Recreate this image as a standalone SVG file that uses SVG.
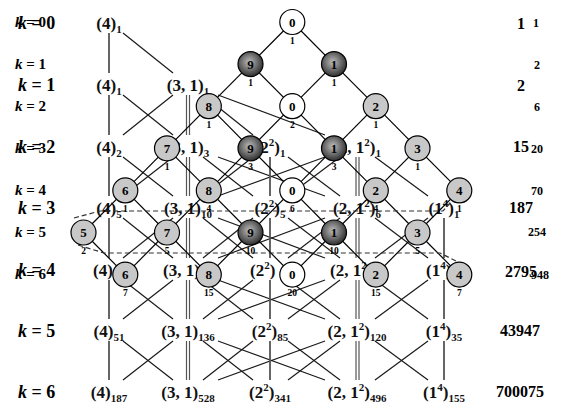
<svg xmlns="http://www.w3.org/2000/svg" width="561" height="415" viewBox="0 0 561 415">
<style>
.ae{stroke:#1a1a1a;stroke-width:1.2;fill:none}
.av{stroke:#555;stroke-width:1.8}
.ad{stroke:#555;stroke-width:1.2}
.be{stroke:#000;stroke-width:1.2}
.dash{stroke:#333;stroke-width:1.2;stroke-dasharray:5 3;fill:none}
.nd{stroke:#000;stroke-width:1.2}
.lt{fill:#c8c8c8}.wt{fill:#fff}.dk{fill:url(#dkg)}
.nt{font-family:"Liberation Serif",serif;font-weight:bold;font-size:13px;text-anchor:middle;fill:#000}
.ns{font-family:"Liberation Serif",serif;font-weight:bold;font-size:9.5px;text-anchor:middle;fill:#000}
.al{font-family:"Liberation Serif",serif;font-weight:bold;font-size:17px;text-anchor:middle;fill:#111}
.als{font-family:"Liberation Serif",serif;font-weight:bold;font-size:17px;fill:#111}
.sb{font-size:11px}
.kA{font-family:"Liberation Serif",serif;font-weight:bold;font-size:18px;fill:#000}
.kB{font-family:"Liberation Serif",serif;font-weight:bold;font-size:15px;fill:#000}
.it{font-style:italic}
.nA{font-family:"Liberation Serif",serif;font-weight:bold;font-size:16px;text-anchor:middle;fill:#000}
.nB{font-family:"Liberation Serif",serif;font-weight:bold;font-size:12px;text-anchor:middle;fill:#000}
</style>
<defs>
<radialGradient id="dkg" cx="0.45" cy="0.42" r="0.6">
<stop offset="0" stop-color="#bcbcbc"/>
<stop offset="1" stop-color="#2a2a2a"/>
</radialGradient>
</defs>
<rect width="561" height="415" fill="#fff"/>

<g id="lattice-edges">
<!-- k0 -> k1 -->
<line class="av" x1="109" y1="33" x2="109" y2="73"/>
<line class="ae" x1="123" y1="33" x2="173" y2="73"/>
<!-- k1 -> k2 -->
<line class="av" x1="109" y1="95" x2="109" y2="135"/>
<line class="ae" x1="123" y1="95" x2="173" y2="135"/>
<line class="ae" x1="173" y1="95" x2="123" y2="135"/>
<line class="ad" x1="186.5" y1="95" x2="186.5" y2="135"/>
<line class="ad" x1="189.5" y1="95" x2="189.5" y2="135"/>
<line class="ae" x1="203" y1="95" x2="253" y2="135"/>
<line class="ae" x1="218" y1="95" x2="325" y2="135"/>
<!-- k2 -> k3 -->
<line class="av" x1="109" y1="157" x2="109" y2="196"/>
<line class="ae" x1="123" y1="157" x2="173" y2="196"/>
<line class="ae" x1="173" y1="157" x2="123" y2="196"/>
<line class="ad" x1="186.5" y1="157" x2="186.5" y2="196"/>
<line class="ad" x1="189.5" y1="157" x2="189.5" y2="196"/>
<line class="ae" x1="203" y1="157" x2="253" y2="196"/>
<line class="ae" x1="253" y1="157" x2="203" y2="196"/>
<line class="ae" x1="218" y1="157" x2="325" y2="196"/>
<line class="ae" x1="325" y1="157" x2="218" y2="196"/>
<line class="av" x1="270" y1="157" x2="270" y2="196"/>
<line class="ae" x1="288" y1="157" x2="340" y2="196"/>
<line class="ae" x1="340" y1="157" x2="288" y2="196"/>
<line class="ad" x1="356" y1="157" x2="356" y2="196"/>
<line class="ad" x1="359" y1="157" x2="359" y2="196"/>
<line class="ae" x1="375" y1="157" x2="428" y2="196"/>
<!-- k3 -> k4 -->
<line class="av" x1="109" y1="218" x2="109" y2="258"/>
<line class="ae" x1="123" y1="218" x2="173" y2="258"/>
<line class="ae" x1="173" y1="218" x2="123" y2="258"/>
<line class="ad" x1="186.5" y1="218" x2="186.5" y2="258"/>
<line class="ad" x1="189.5" y1="218" x2="189.5" y2="258"/>
<line class="ae" x1="203" y1="218" x2="253" y2="258"/>
<line class="ae" x1="253" y1="218" x2="203" y2="258"/>
<line class="ae" x1="218" y1="218" x2="325" y2="258"/>
<line class="ae" x1="325" y1="218" x2="218" y2="258"/>
<line class="av" x1="270" y1="218" x2="270" y2="258"/>
<line class="ae" x1="288" y1="218" x2="340" y2="258"/>
<line class="ae" x1="340" y1="218" x2="288" y2="258"/>
<line class="ad" x1="356" y1="218" x2="356" y2="258"/>
<line class="ad" x1="359" y1="218" x2="359" y2="258"/>
<line class="ae" x1="375" y1="218" x2="428" y2="258"/>
<line class="ae" x1="428" y1="218" x2="375" y2="258"/>
<line class="av" x1="444" y1="218" x2="444" y2="258"/>
<!-- k4 -> k5 -->
<line class="av" x1="109" y1="280" x2="109" y2="319"/>
<line class="ae" x1="123" y1="280" x2="173" y2="319"/>
<line class="ae" x1="173" y1="280" x2="123" y2="319"/>
<line class="ad" x1="186.5" y1="280" x2="186.5" y2="319"/>
<line class="ad" x1="189.5" y1="280" x2="189.5" y2="319"/>
<line class="ae" x1="203" y1="280" x2="253" y2="319"/>
<line class="ae" x1="253" y1="280" x2="203" y2="319"/>
<line class="ae" x1="218" y1="280" x2="325" y2="319"/>
<line class="ae" x1="325" y1="280" x2="218" y2="319"/>
<line class="av" x1="270" y1="280" x2="270" y2="319"/>
<line class="ae" x1="288" y1="280" x2="340" y2="319"/>
<line class="ae" x1="340" y1="280" x2="288" y2="319"/>
<line class="ad" x1="356" y1="280" x2="356" y2="319"/>
<line class="ad" x1="359" y1="280" x2="359" y2="319"/>
<line class="ae" x1="375" y1="280" x2="428" y2="319"/>
<line class="ae" x1="428" y1="280" x2="375" y2="319"/>
<line class="av" x1="444" y1="280" x2="444" y2="319"/>
<!-- k5 -> k6 -->
<line class="av" x1="109" y1="341" x2="109" y2="380"/>
<line class="ae" x1="123" y1="341" x2="173" y2="380"/>
<line class="ae" x1="173" y1="341" x2="123" y2="380"/>
<line class="ad" x1="186.5" y1="341" x2="186.5" y2="380"/>
<line class="ad" x1="189.5" y1="341" x2="189.5" y2="380"/>
<line class="ae" x1="203" y1="341" x2="253" y2="380"/>
<line class="ae" x1="253" y1="341" x2="203" y2="380"/>
<line class="ae" x1="218" y1="341" x2="325" y2="380"/>
<line class="ae" x1="325" y1="341" x2="218" y2="380"/>
<line class="av" x1="270" y1="341" x2="270" y2="380"/>
<line class="ae" x1="288" y1="341" x2="340" y2="380"/>
<line class="ae" x1="340" y1="341" x2="288" y2="380"/>
<line class="ad" x1="356" y1="341" x2="356" y2="380"/>
<line class="ad" x1="359" y1="341" x2="359" y2="380"/>
<line class="ae" x1="375" y1="341" x2="428" y2="380"/>
<line class="ae" x1="428" y1="341" x2="375" y2="380"/>
<line class="av" x1="444" y1="341" x2="444" y2="380"/>
</g>

<g id="lattice-labels">
<g id="A-k0"><text class="al" x="109" y="29">(4)<tspan class="sb" dy="4">1</tspan></text></g>
<g id="A-k1">
<text class="al" x="109" y="91">(4)<tspan class="sb" dy="4">1</tspan></text>
<text class="al" x="188" y="91">(3, 1)<tspan class="sb" dy="4">1</tspan></text>
</g>
<g id="A-k2">
<text class="al" x="109" y="153">(4)<tspan class="sb" dy="4">2</tspan></text>
<text class="al" x="188" y="153">(3, 1)<tspan class="sb" dy="4">3</tspan></text>
<text class="al" x="270" y="153">(2<tspan class="sb" dy="-7">2</tspan><tspan dy="7">)</tspan><tspan class="sb" dy="4">1</tspan></text>
<text class="al" x="357" y="153">(2, 1<tspan class="sb" dy="-7">2</tspan><tspan dy="7">)</tspan><tspan class="sb" dy="4">1</tspan></text>
</g>
<g id="A-k3">
<text class="al" x="109" y="214">(4)<tspan class="sb" dy="4">5</tspan></text>
<text class="al" x="188" y="214">(3, 1)<tspan class="sb" dy="4">10</tspan></text>
<text class="al" x="270" y="214">(2<tspan class="sb" dy="-7">2</tspan><tspan dy="7">)</tspan><tspan class="sb" dy="4">5</tspan></text>
<text class="al" x="357" y="214">(2, 1<tspan class="sb" dy="-7">2</tspan><tspan dy="7">)</tspan><tspan class="sb" dy="4">6</tspan></text>
<text class="al" x="444" y="214">(1<tspan class="sb" dy="-7">4</tspan><tspan dy="7">)</tspan><tspan class="sb" dy="4">1</tspan></text>
</g>
<g id="A-k4">
<text class="als" x="93" y="276">(4)</text>
<text class="als" x="163" y="276">(3, 1)</text>
<text class="als" x="250" y="276">(2<tspan class="sb" dy="-7">2</tspan><tspan dy="7">)</tspan></text>
<text class="als" x="330" y="276">(2, 1<tspan class="sb" dy="-7">2</tspan><tspan dy="7">)</tspan></text>
<text class="als" x="426" y="276">(1<tspan class="sb" dy="-7">4</tspan><tspan dy="7">)</tspan></text>
</g>
<g id="A-k5">
<text class="al" x="109" y="337">(4)<tspan class="sb" dy="4">51</tspan></text>
<text class="al" x="188" y="337">(3, 1)<tspan class="sb" dy="4">136</tspan></text>
<text class="al" x="270" y="337">(2<tspan class="sb" dy="-7">2</tspan><tspan dy="7">)</tspan><tspan class="sb" dy="4">85</tspan></text>
<text class="al" x="357" y="337">(2, 1<tspan class="sb" dy="-7">2</tspan><tspan dy="7">)</tspan><tspan class="sb" dy="4">120</tspan></text>
<text class="al" x="444" y="337">(1<tspan class="sb" dy="-7">4</tspan><tspan dy="7">)</tspan><tspan class="sb" dy="4">35</tspan></text>
</g>
<g id="A-k6">
<text class="al" x="109" y="398">(4)<tspan class="sb" dy="4">187</tspan></text>
<text class="al" x="188" y="398">(3, 1)<tspan class="sb" dy="4">528</tspan></text>
<text class="al" x="270" y="398">(2<tspan class="sb" dy="-7">2</tspan><tspan dy="7">)</tspan><tspan class="sb" dy="4">341</tspan></text>
<text class="al" x="357" y="398">(2, 1<tspan class="sb" dy="-7">2</tspan><tspan dy="7">)</tspan><tspan class="sb" dy="4">496</tspan></text>
<text class="al" x="444" y="398">(1<tspan class="sb" dy="-7">4</tspan><tspan dy="7">)</tspan><tspan class="sb" dy="4">155</tspan></text>
</g>
</g>

<g id="row-labels-A">
<text class="kA" x="18" y="29"><tspan class="it">k</tspan> = 0</text>
<text class="kA" x="18" y="91"><tspan class="it">k</tspan> = 1</text>
<text class="kA" x="18" y="153"><tspan class="it">k</tspan> = 2</text>
<text class="kA" x="18" y="214"><tspan class="it">k</tspan> = 3</text>
<text class="kA" x="18" y="276"><tspan class="it">k</tspan> = 4</text>
<text class="kA" x="18" y="337"><tspan class="it">k</tspan> = 5</text>
<text class="kA" x="18" y="398"><tspan class="it">k</tspan> = 6</text>
</g>
<g id="row-labels-B">
<text class="kB" x="15" y="27"><tspan class="it">k</tspan> = 0</text>
<text class="kB" x="15" y="69"><tspan class="it">k</tspan> = 1</text>
<text class="kB" x="15" y="111"><tspan class="it">k</tspan> = 2</text>
<text class="kB" x="15" y="153"><tspan class="it">k</tspan> = 3</text>
<text class="kB" x="15" y="195"><tspan class="it">k</tspan> = 4</text>
<text class="kB" x="15" y="237"><tspan class="it">k</tspan> = 5</text>
<text class="kB" x="15" y="279"><tspan class="it">k</tspan> = 6</text>
</g>

<g id="totals-A">
<text class="nA" x="521" y="29">1</text>
<text class="nA" x="521" y="91">2</text>
<text class="nA" x="521" y="152">15</text>
<text class="nA" x="521" y="213">187</text>
<text class="nA" x="521" y="277">2795</text>
<text class="nA" x="520" y="336">43947</text>
<text class="nA" x="520" y="397">700075</text>
</g>
<g id="totals-B">
<text class="nB" x="536" y="27">1</text>
<text class="nB" x="537" y="69">2</text>
<text class="nB" x="537" y="111">6</text>
<text class="nB" x="537" y="153">20</text>
<text class="nB" x="537" y="195">70</text>
<text class="nB" x="537" y="236">254</text>
<text class="nB" x="540" y="279">948</text>
</g>

<g id="wheel-edges">
<line class="be" x1="292.3" y1="22" x2="250.5" y2="64.1"/>
<line class="be" x1="292.3" y1="22" x2="334" y2="64.1"/>
<line class="be" x1="250.5" y1="64.1" x2="208.8" y2="106.2"/>
<line class="be" x1="250.5" y1="64.1" x2="292.3" y2="106.2"/>
<line class="be" x1="334" y1="64.1" x2="292.3" y2="106.2"/>
<line class="be" x1="334" y1="64.1" x2="375.8" y2="106.2"/>
<line class="be" x1="208.8" y1="106.2" x2="167" y2="148.3"/>
<line class="be" x1="208.8" y1="106.2" x2="250.5" y2="148.3"/>
<line class="be" x1="292.3" y1="106.2" x2="250.5" y2="148.3"/>
<line class="be" x1="292.3" y1="106.2" x2="334" y2="148.3"/>
<line class="be" x1="375.8" y1="106.2" x2="334" y2="148.3"/>
<line class="be" x1="375.8" y1="106.2" x2="417.5" y2="148.3"/>
<line class="be" x1="167" y1="148.3" x2="125.3" y2="190.4"/>
<line class="be" x1="167" y1="148.3" x2="208.8" y2="190.4"/>
<line class="be" x1="250.5" y1="148.3" x2="208.8" y2="190.4"/>
<line class="be" x1="250.5" y1="148.3" x2="292.3" y2="190.4"/>
<line class="be" x1="334" y1="148.3" x2="292.3" y2="190.4"/>
<line class="be" x1="334" y1="148.3" x2="375.8" y2="190.4"/>
<line class="be" x1="417.5" y1="148.3" x2="375.8" y2="190.4"/>
<line class="be" x1="417.5" y1="148.3" x2="459.3" y2="190.4"/>
<line class="be" x1="125.3" y1="190.4" x2="83.5" y2="232.5"/>
<line class="be" x1="125.3" y1="190.4" x2="167" y2="232.5"/>
<line class="be" x1="208.8" y1="190.4" x2="167" y2="232.5"/>
<line class="be" x1="208.8" y1="190.4" x2="250.5" y2="232.5"/>
<line class="be" x1="292.3" y1="190.4" x2="250.5" y2="232.5"/>
<line class="be" x1="292.3" y1="190.4" x2="334" y2="232.5"/>
<line class="be" x1="375.8" y1="190.4" x2="334" y2="232.5"/>
<line class="be" x1="375.8" y1="190.4" x2="417.5" y2="232.5"/>
<line class="be" x1="459.3" y1="190.4" x2="417.5" y2="232.5"/>
<line class="be" x1="83.5" y1="232.5" x2="125.3" y2="274.6"/>
<line class="be" x1="167" y1="232.5" x2="125.3" y2="274.6"/>
<line class="be" x1="167" y1="232.5" x2="208.8" y2="274.6"/>
<line class="be" x1="250.5" y1="232.5" x2="208.8" y2="274.6"/>
<line class="be" x1="250.5" y1="232.5" x2="292.3" y2="274.6"/>
<line class="be" x1="334" y1="232.5" x2="292.3" y2="274.6"/>
<line class="be" x1="334" y1="232.5" x2="375.8" y2="274.6"/>
<line class="be" x1="417.5" y1="232.5" x2="375.8" y2="274.6"/>
<line class="be" x1="417.5" y1="232.5" x2="459.3" y2="274.6"/>
<path class="dash" d="M74 218 L100 211 L443 211 L452 201"/>
<path class="dash" d="M78 245 L104 253 L440 253 L458 262"/>
</g>

<g id="wheel-nodes">
<g id="n0-5"><circle class="nd wt" cx="292.3" cy="22" r="12.5"/><text class="nt" x="292.3" y="26.5">0</text><text class="ns" x="292.3" y="44">1</text></g>
<g id="n1-4"><circle class="nd dk" cx="250.5" cy="64.1" r="12.5"/><text class="nt" x="250.5" y="68.6">9</text><text class="ns" x="250.5" y="86">1</text></g>
<g id="n1-6"><circle class="nd dk" cx="334" cy="64.1" r="12.5"/><text class="nt" x="334" y="68.6">1</text><text class="ns" x="334" y="86">1</text></g>
<g id="n2-3"><circle class="nd lt" cx="208.8" cy="106.2" r="12.5"/><text class="nt" x="208.8" y="110.7">8</text><text class="ns" x="208.8" y="128">1</text></g>
<g id="n2-5"><circle class="nd wt" cx="292.3" cy="106.2" r="12.5"/><text class="nt" x="292.3" y="110.7">0</text><text class="ns" x="292.3" y="128">2</text></g>
<g id="n2-7"><circle class="nd lt" cx="375.8" cy="106.2" r="12.5"/><text class="nt" x="375.8" y="110.7">2</text><text class="ns" x="375.8" y="128">1</text></g>
<g id="n3-2"><circle class="nd lt" cx="167" cy="148.3" r="12.5"/><text class="nt" x="167" y="152.8">7</text><text class="ns" x="167" y="170">1</text></g>
<g id="n3-4"><circle class="nd dk" cx="250.5" cy="148.3" r="12.5"/><text class="nt" x="250.5" y="152.8">9</text><text class="ns" x="250.5" y="170">3</text></g>
<g id="n3-6"><circle class="nd dk" cx="334" cy="148.3" r="12.5"/><text class="nt" x="334" y="152.8">1</text><text class="ns" x="334" y="170">3</text></g>
<g id="n3-8"><circle class="nd lt" cx="417.5" cy="148.3" r="12.5"/><text class="nt" x="417.5" y="152.8">3</text><text class="ns" x="417.5" y="170">1</text></g>
<g id="n4-1"><circle class="nd lt" cx="125.3" cy="190.4" r="12.5"/><text class="nt" x="125.3" y="194.9">6</text><text class="ns" x="125.3" y="212">1</text></g>
<g id="n4-3"><circle class="nd lt" cx="208.8" cy="190.4" r="12.5"/><text class="nt" x="208.8" y="194.9">8</text><text class="ns" x="208.8" y="212">4</text></g>
<g id="n4-5"><circle class="nd wt" cx="292.3" cy="190.4" r="12.5"/><text class="nt" x="292.3" y="194.9">0</text><text class="ns" x="292.3" y="212">6</text></g>
<g id="n4-7"><circle class="nd lt" cx="375.8" cy="190.4" r="12.5"/><text class="nt" x="375.8" y="194.9">2</text><text class="ns" x="375.8" y="212">4</text></g>
<g id="n4-9"><circle class="nd lt" cx="459.3" cy="190.4" r="12.5"/><text class="nt" x="459.3" y="194.9">4</text><text class="ns" x="459.3" y="212">1</text></g>
<g id="n5-0"><circle class="nd lt" cx="83.5" cy="232.5" r="12.5"/><text class="nt" x="83.5" y="237">5</text><text class="ns" x="83.5" y="254">2</text></g>
<g id="n5-2"><circle class="nd lt" cx="167" cy="232.5" r="12.5"/><text class="nt" x="167" y="237">7</text><text class="ns" x="167" y="254">5</text></g>
<g id="n5-4"><circle class="nd dk" cx="250.5" cy="232.5" r="12.5"/><text class="nt" x="250.5" y="237">9</text><text class="ns" x="250.5" y="254">10</text></g>
<g id="n5-6"><circle class="nd dk" cx="334" cy="232.5" r="12.5"/><text class="nt" x="334" y="237">1</text><text class="ns" x="334" y="254">10</text></g>
<g id="n5-8"><circle class="nd lt" cx="417.5" cy="232.5" r="12.5"/><text class="nt" x="417.5" y="237">3</text><text class="ns" x="417.5" y="254">5</text></g>
<g id="n6-1"><circle class="nd lt" cx="125.3" cy="274.6" r="12.5"/><text class="nt" x="125.3" y="279.1">6</text><text class="ns" x="125.3" y="296">7</text></g>
<g id="n6-3"><circle class="nd lt" cx="208.8" cy="274.6" r="12.5"/><text class="nt" x="208.8" y="279.1">8</text><text class="ns" x="208.8" y="296">15</text></g>
<g id="n6-5"><circle class="nd wt" cx="292.3" cy="274.6" r="12.5"/><text class="nt" x="292.3" y="279.1">0</text><text class="ns" x="292.3" y="296">20</text></g>
<g id="n6-7"><circle class="nd lt" cx="375.8" cy="274.6" r="12.5"/><text class="nt" x="375.8" y="279.1">2</text><text class="ns" x="375.8" y="296">15</text></g>
<g id="n6-9"><circle class="nd lt" cx="459.3" cy="274.6" r="12.5"/><text class="nt" x="459.3" y="279.1">4</text><text class="ns" x="459.3" y="296">7</text></g>
</g>
</svg>
